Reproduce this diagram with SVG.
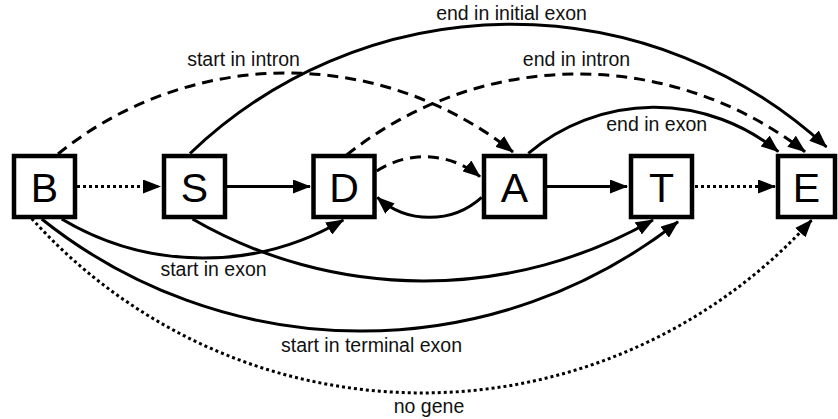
<svg xmlns="http://www.w3.org/2000/svg" width="838" height="419" viewBox="0 0 838 419">
<style>
.box{fill:#fff;stroke:#000;stroke-width:4.5}
.ltr{font-family:"Liberation Sans",Arial,sans-serif;font-size:41px;fill:#000;text-anchor:middle}
.lbl{font-family:"Liberation Sans",Arial,sans-serif;font-size:19.5px;fill:#111;text-anchor:middle}
.e{fill:none;stroke:#000;stroke-width:3;marker-end:url(#ah)}
.dash{stroke-dasharray:11 7}
.dot{stroke-dasharray:3 3}
</style>
<defs>
<marker id="ah" markerUnits="userSpaceOnUse" viewBox="0 0 18 14" markerWidth="18" markerHeight="14" refX="17" refY="7" orient="auto">
<path d="M0,0 L18,7 L0,14 z" fill="#000" stroke="none"/>
</marker>
</defs>
<rect width="838" height="419" fill="#fff"/>
<g id="connectors">
<path class="e dot" d="M77,186.5 L160,186.5"/>
<path class="e" d="M227,186.5 L310,186.5"/>
<path class="e" d="M547,186.5 L627,186.5"/>
<path class="e dot" d="M695,186.5 L775,186.5"/>
<path class="e dash" d="M58,154 A363.5,363.5 0 0 1 513,152"/>
<path class="e" d="M190,153.5 A465,465 0 0 1 826.5,147"/>
<path class="e dash" d="M346.7,155 A370.7,370.7 0 0 1 805,151.7"/>
<path class="e" d="M528.3,153.3 A195.4,195.4 0 0 1 778.3,151.7"/>
<path class="e dash" d="M376.7,171 A87.3,87.3 0 0 1 480,176.7"/>
<path class="e" d="M481.7,197.3 A78.1,78.1 0 0 1 377.3,197.3"/>
<path class="e" d="M61.7,219 A276.7,276.7 0 0 0 343.3,220"/>
<path class="e" d="M192.5,219 A461.8,461.8 0 0 0 653,220"/>
<path class="e" d="M41.7,219 A512.5,512.5 0 0 0 678,221.7"/>
<path class="e dot" d="M31.7,218.5 A524.7,524.7 0 0 0 811.7,220"/>
</g>
<g id="labels">
<text class="lbl" x="511.5" y="20">end in initial exon</text>
<text class="lbl" x="576.5" y="66">end in intron</text>
<text class="lbl" x="656.7" y="131">end in exon</text>
<text class="lbl" x="243.5" y="66">start in intron</text>
<text class="lbl" x="213.5" y="276">start in exon</text>
<text class="lbl" x="371.5" y="352">start in terminal exon</text>
<text class="lbl" x="429" y="413">no gene</text>
</g>
<g id="B"><rect class="box" x="14" y="156" width="61" height="61"/><text class="ltr" x="44.5" y="201.5">B</text></g>
<g id="S"><rect class="box" x="164" y="156" width="61" height="61"/><text class="ltr" x="194.5" y="201.5">S</text></g>
<g id="D"><rect class="box" x="313.5" y="156" width="61" height="61"/><text class="ltr" x="344" y="201.5">D</text></g>
<g id="A"><rect class="box" x="484" y="156" width="61" height="61"/><text class="ltr" x="514.5" y="201.5">A</text></g>
<g id="T"><rect class="box" x="631" y="156" width="61" height="61"/><text class="ltr" x="661.5" y="201.5">T</text></g>
<g id="E"><rect class="box" x="778" y="156" width="57" height="61"/><text class="ltr" x="806.5" y="201.5">E</text></g>
</svg>
